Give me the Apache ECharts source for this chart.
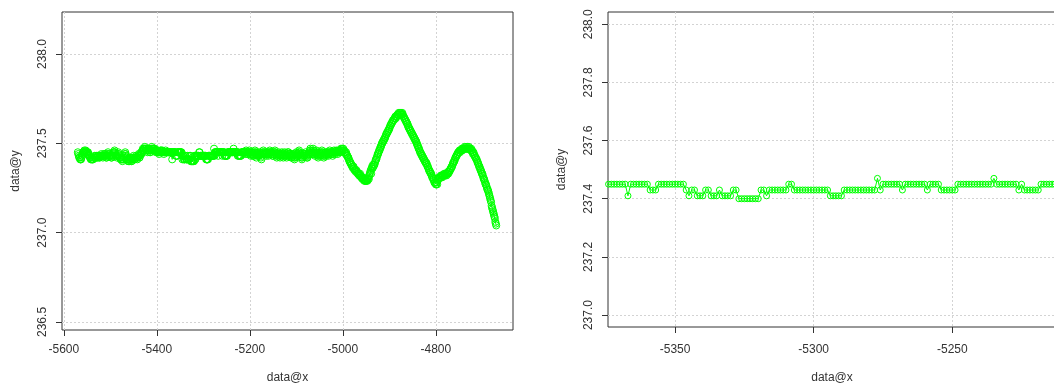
<!DOCTYPE html>
<html>
<head>
<meta charset="utf-8">
<script src="https://cdn.jsdelivr.net/npm/echarts@6.0.0/dist/echarts.min.js"></script>
<style>
  html, body { margin: 0; padding: 0; background: #fff; }
  #chart { width: 1054px; height: 385px; }
</style>
</head>
<body>
<div id="chart"></div>
<script>
// data@y readings, one per unit of data@x
// head: x -5570 .. -5375
var headY = [
  237.45, 237.44, 237.43, 237.42, 237.42,
  237.41, 237.41, 237.41, 237.42, 237.43, 237.44, 237.45, 237.45,
  237.45, 237.46, 237.45, 237.45, 237.46, 237.45, 237.45, 237.44, 237.45, 237.45, 237.44, 237.43, 237.43,
  237.42, 237.42, 237.41, 237.41, 237.42, 237.41, 237.41, 237.41, 237.42, 237.42, 237.43, 237.42,
  237.42, 237.43, 237.43, 237.42, 237.42, 237.43, 237.43, 237.43, 237.42, 237.42, 237.43,
  237.43, 237.43, 237.44, 237.43, 237.43, 237.42, 237.43, 237.43, 237.44, 237.44, 237.43, 237.43,
  237.42, 237.42, 237.43, 237.44, 237.45, 237.44, 237.43, 237.43, 237.43, 237.44, 237.43, 237.42,
  237.42, 237.43, 237.43, 237.44, 237.45, 237.45, 237.46, 237.45, 237.44, 237.43, 237.43, 237.42,
  237.43, 237.44, 237.45, 237.44, 237.43, 237.42, 237.42,
  237.41, 237.41, 237.42, 237.41, 237.40, 237.41, 237.41, 237.42, 237.43, 237.44, 237.45, 237.44,
  237.43, 237.42, 237.41, 237.41, 237.40, 237.40, 237.41, 237.40, 237.41, 237.42, 237.41, 237.40,
  237.40, 237.41, 237.41, 237.42, 237.43, 237.42, 237.41, 237.41, 237.42, 237.42, 237.43, 237.42,
  237.41, 237.42, 237.43, 237.44, 237.43, 237.42, 237.43, 237.44,
  237.45, 237.44, 237.45, 237.46, 237.47, 237.46, 237.47, 237.47, 237.48, 237.47, 237.46, 237.47,
  237.47, 237.46, 237.45, 237.46, 237.47, 237.47, 237.46, 237.45, 237.45, 237.46, 237.47, 237.48,
  237.47, 237.46, 237.47, 237.47, 237.46, 237.46, 237.47, 237.46, 237.45,
  237.46, 237.46, 237.45, 237.46, 237.45, 237.45, 237.44, 237.45, 237.45, 237.46, 237.46, 237.45,
  237.45, 237.46, 237.45, 237.45, 237.44, 237.45, 237.45, 237.45, 237.46, 237.45, 237.45, 237.45,
  237.45, 237.45, 237.45
];

// zoomed window (right plot): x -5374 .. -5213
var zoomStartX = -5374;
var zoomY = [
  237.45, 237.45, 237.45, 237.45, 237.45, 237.45, 237.45, 237.41, 237.45, 237.45,
  237.45, 237.45, 237.45, 237.45, 237.45, 237.43, 237.43, 237.43, 237.45, 237.45,
  237.45, 237.45, 237.45, 237.45, 237.45, 237.45, 237.45, 237.45, 237.43, 237.41,
  237.43, 237.43, 237.41, 237.41, 237.41, 237.43, 237.43, 237.41, 237.41, 237.41,
  237.43, 237.41, 237.41, 237.41, 237.41, 237.43, 237.43, 237.40, 237.40, 237.40,
  237.40, 237.40, 237.40, 237.40, 237.40, 237.43, 237.43, 237.41, 237.43, 237.43,
  237.43, 237.43, 237.43, 237.43, 237.43, 237.45, 237.45, 237.43, 237.43, 237.43,
  237.43, 237.43, 237.43, 237.43, 237.43, 237.43, 237.43, 237.43, 237.43, 237.43,
  237.41, 237.41, 237.41, 237.41, 237.41, 237.43, 237.43, 237.43, 237.43, 237.43,
  237.43, 237.43, 237.43, 237.43, 237.43, 237.43, 237.43, 237.47, 237.43, 237.45,
  237.45, 237.45, 237.45, 237.45, 237.45, 237.45, 237.43, 237.45, 237.45, 237.45,
  237.45, 237.45, 237.45, 237.45, 237.45, 237.43, 237.45, 237.45, 237.45, 237.45,
  237.43, 237.43, 237.43, 237.43, 237.43, 237.43, 237.45, 237.45, 237.45, 237.45,
  237.45, 237.45, 237.45, 237.45, 237.45, 237.45, 237.45, 237.45, 237.45, 237.47,
  237.45, 237.45, 237.45, 237.45, 237.45, 237.45, 237.45, 237.45, 237.43, 237.45,
  237.43, 237.43, 237.43, 237.43, 237.43, 237.43, 237.45, 237.45, 237.45, 237.45,
  237.45, 237.45
];

// x -5212 .. -5001
var midY = [
  237.45, 237.45, 237.44, 237.45, 237.46, 237.45, 237.45, 237.44, 237.44, 237.45,
  237.45, 237.46, 237.45, 237.44, 237.43, 237.44, 237.45, 237.45, 237.44, 237.43,
  237.43, 237.44, 237.45, 237.46, 237.45, 237.44, 237.42, 237.43, 237.44, 237.45,
  237.44, 237.43, 237.43, 237.44, 237.45, 237.44, 237.42, 237.41, 237.43, 237.44,
  237.45, 237.46, 237.45, 237.44, 237.44, 237.45, 237.44, 237.43, 237.44, 237.45,
  237.45, 237.44, 237.43, 237.44, 237.45, 237.46, 237.45, 237.44, 237.45, 237.45,
  237.44, 237.43, 237.43, 237.44, 237.45, 237.45, 237.46, 237.45, 237.44, 237.43,
  237.42, 237.43, 237.44, 237.44, 237.45, 237.44, 237.43, 237.42, 237.43, 237.44,
  237.44, 237.45, 237.44, 237.43, 237.42, 237.43, 237.44, 237.45, 237.44, 237.43,
  237.43, 237.42, 237.43, 237.44, 237.45, 237.45, 237.44, 237.43, 237.44, 237.44,
  237.43, 237.42, 237.42, 237.43, 237.44, 237.44, 237.43, 237.42, 237.41, 237.42,
  237.43, 237.44, 237.45, 237.44, 237.43, 237.43, 237.44, 237.45, 237.46, 237.45,
  237.44, 237.44, 237.43, 237.42, 237.41, 237.42, 237.43, 237.44, 237.44, 237.43,
  237.43, 237.44, 237.45, 237.44, 237.43, 237.42, 237.42, 237.43, 237.44, 237.44,
  237.45, 237.46, 237.47, 237.46, 237.45, 237.44, 237.44, 237.45, 237.47, 237.46,
  237.45, 237.44, 237.43, 237.44, 237.45, 237.46, 237.45, 237.44, 237.43, 237.42,
  237.43, 237.44, 237.45, 237.44, 237.43, 237.44, 237.45, 237.46, 237.45, 237.44,
  237.43, 237.42, 237.43, 237.44, 237.45, 237.44, 237.43, 237.44, 237.45, 237.45,
  237.44, 237.43, 237.44, 237.45, 237.46, 237.45, 237.44, 237.45, 237.45, 237.44,
  237.43, 237.44, 237.45, 237.46, 237.45, 237.45, 237.44, 237.45, 237.46, 237.45,
  237.45, 237.44, 237.45, 237.46, 237.46, 237.45, 237.45, 237.46, 237.47, 237.46,
  237.46, 237.47
];

// x -5000 .. -4670
var tailY = [
  237.46, 237.47, 237.46, 237.46, 237.45, 237.45, 237.44, 237.45, 237.44, 237.43,
  237.43, 237.42, 237.42, 237.41, 237.40, 237.40, 237.39, 237.39, 237.38, 237.38,
  237.37, 237.37, 237.36, 237.37, 237.36, 237.35, 237.35, 237.35, 237.34, 237.35,
  237.34, 237.34, 237.33, 237.33, 237.33, 237.32, 237.32, 237.33, 237.32, 237.31,
  237.31, 237.31, 237.30, 237.31, 237.30, 237.30, 237.29, 237.30, 237.29, 237.29,
  237.29, 237.29, 237.30, 237.29, 237.30, 237.31, 237.30, 237.32, 237.33, 237.34,
  237.35, 237.33, 237.36, 237.37, 237.36, 237.38, 237.37, 237.38, 237.38, 237.39,
  237.40, 237.41, 237.41, 237.42, 237.43, 237.44, 237.44, 237.45, 237.46, 237.46,
  237.47, 237.48, 237.48, 237.49, 237.50, 237.50, 237.51, 237.51, 237.52, 237.52,
  237.53, 237.53, 237.54, 237.55, 237.55, 237.56, 237.56, 237.57, 237.57, 237.58,
  237.58, 237.59, 237.60, 237.60, 237.61, 237.61, 237.62, 237.62, 237.63, 237.63,
  237.63, 237.64, 237.64, 237.65, 237.64, 237.65, 237.65, 237.66, 237.66, 237.66,
  237.67, 237.66, 237.67, 237.67, 237.67, 237.66, 237.67, 237.66, 237.67, 237.66,
  237.65, 237.65, 237.64, 237.64, 237.63, 237.63, 237.62, 237.62, 237.61, 237.61,
  237.60, 237.59, 237.59, 237.58, 237.58, 237.57, 237.57, 237.56, 237.56, 237.55,
  237.55, 237.54, 237.54, 237.53, 237.53, 237.52, 237.52, 237.51, 237.51, 237.50,
  237.49, 237.49, 237.48, 237.47, 237.47, 237.46, 237.45, 237.45, 237.44, 237.44,
  237.43, 237.43, 237.42, 237.42, 237.41, 237.41, 237.40, 237.40, 237.39, 237.39,
  237.39, 237.38, 237.37, 237.37, 237.36, 237.35, 237.35, 237.34, 237.34, 237.33,
  237.33, 237.32, 237.31, 237.31, 237.30, 237.30, 237.29, 237.28, 237.28, 237.28,
  237.27, 237.27, 237.28, 237.27, 237.29, 237.30, 237.30, 237.31, 237.31, 237.31,
  237.31, 237.32, 237.31, 237.32, 237.31, 237.32, 237.32, 237.32, 237.33, 237.32,
  237.32, 237.33, 237.33, 237.32, 237.33, 237.33, 237.34, 237.33, 237.34, 237.34,
  237.35, 237.35, 237.36, 237.36, 237.37, 237.37, 237.38, 237.39, 237.39, 237.40,
  237.40, 237.41, 237.42, 237.42, 237.43, 237.43, 237.44, 237.44, 237.45, 237.45,
  237.45, 237.46, 237.45, 237.46, 237.46, 237.46, 237.47, 237.46, 237.47, 237.47,
  237.47, 237.47, 237.48, 237.47, 237.47, 237.48, 237.47, 237.47, 237.48, 237.47,
  237.47, 237.48, 237.47, 237.47, 237.47, 237.46, 237.47, 237.46, 237.46, 237.45,
  237.44, 237.45, 237.44, 237.43, 237.43, 237.42, 237.42, 237.41, 237.41, 237.40,
  237.39, 237.39, 237.38, 237.37, 237.37, 237.36, 237.35, 237.35, 237.34, 237.33,
  237.33, 237.32, 237.31, 237.30, 237.30, 237.29, 237.28, 237.27, 237.27, 237.26,
  237.25, 237.24, 237.24, 237.23, 237.22, 237.21, 237.20, 237.19, 237.18, 237.17,
  237.15, 237.14, 237.13, 237.12, 237.11, 237.10, 237.09, 237.08, 237.06, 237.05,
  237.04
];

var leftXTicks = [-5600, -5400, -5200, -5000, -4800];
var leftYTicks = [236.5, 237.0, 237.5, 238.0];
var rightXTicks = [-5350, -5300, -5250];
var rightYTicks = [237.0, 237.2, 237.4, 237.6, 237.8, 238.0];

var allY = headY.concat(zoomY, midY, tailY);
var firstX = zoomStartX - headY.length;
var points = allY.map(function (v, i) { return [firstX + i, v]; });

var font = '"Liberation Sans", Arial, Helvetica, sans-serif';
var txt = '#333';

function xAxisOpt(grid, min, max, ticks, margin, gap) {
  return {
    gridIndex: grid, type: 'value', min: min, max: max,
    axisLine: { show: false },
    axisTick: { show: true, length: 6, customValues: ticks, lineStyle: { color: '#333' } },
    axisLabel: {
      customValues: ticks, margin: margin, color: txt, fontSize: 12, fontFamily: font,
      formatter: function (v) { return String(v); }
    },
    splitLine: { show: true, lineStyle: { color: '#d3d3d3', type: [2, 2] } },
    name: 'data@x', nameLocation: 'middle', nameGap: gap,
    nameTextStyle: { color: txt, fontSize: 12, fontFamily: font }
  };
}

function yAxisOpt(grid, min, max, ticks) {
  return {
    gridIndex: grid, type: 'value', min: min, max: max,
    axisLine: { show: false },
    axisTick: { show: true, length: 6, customValues: ticks, lineStyle: { color: '#333' } },
    axisLabel: {
      customValues: ticks, rotate: 90, margin: 13, color: txt, fontSize: 12, fontFamily: font,
      formatter: function (v) { return v.toFixed(1); }
    },
    splitLine: { show: true, lineStyle: { color: '#d3d3d3', type: [2, 2] } },
    name: 'data@y', nameLocation: 'middle', nameGap: 40,
    nameTextStyle: { color: txt, fontSize: 12, fontFamily: font }
  };
}

function seriesOpt(idx, size) {
  return {
    type: 'line', xAxisIndex: idx, yAxisIndex: idx,
    data: points,
    symbol: 'circle', symbolSize: size, showSymbol: true,
    itemStyle: { color: 'rgba(0,0,0,0)', borderColor: '#00ff00', borderWidth: 1 },
    lineStyle: { color: '#00ff00', width: 1 },
    clip: true, silent: true
  };
}

var chart = echarts.init(document.getElementById('chart'));
chart.setOption({
  animation: false,
  backgroundColor: '#fff',
  grid: [
    { left: 62, top: 12, width: 451, height: 318, outerBoundsMode: 'none', show: true, borderColor: '#333', borderWidth: 1, backgroundColor: 'transparent' },
    { left: 608, top: 12, width: 448, height: 315, outerBoundsMode: 'none', show: true, borderColor: '#333', borderWidth: 1, backgroundColor: 'transparent' }
  ],
  xAxis: [
    xAxisOpt(0, -5604, -4634, leftXTicks, 14, 42),
    xAxisOpt(1, -5374.2, -5212.6, rightXTicks, 17, 45)
  ],
  yAxis: [
    yAxisOpt(0, 236.455, 238.235, leftYTicks),
    yAxisOpt(1, 236.959, 238.042, rightYTicks)
  ],
  series: [seriesOpt(0, 7), seriesOpt(1, 6)]
});
</script>
</body>
</html>
